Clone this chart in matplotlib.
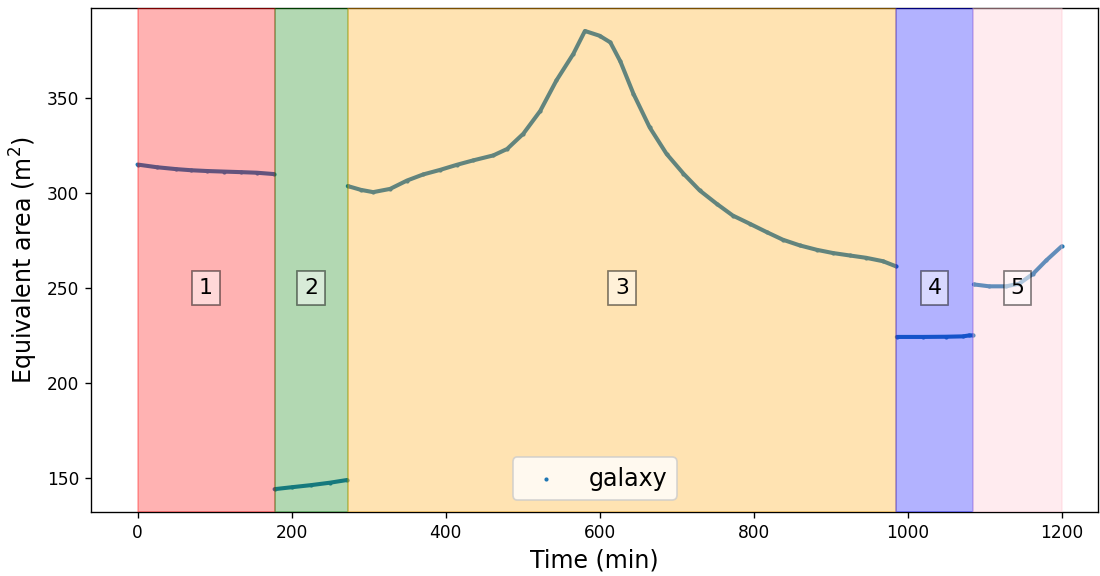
import matplotlib
matplotlib.use("Agg")
import matplotlib.pyplot as plt

# phase boundaries (min) and colours
phase_edges = [0, 178, 273, 985, 1085, 1200]
phase_colors = ["red", "green", "orange", "blue", "pink"]
phase_labels = ["1", "2", "3", "4", "5"]

# galaxy equivalent area, one list per phase
seg1_t = [0, 25, 50, 70, 90, 112, 135, 155, 177]
seg1_y = [314.8, 313.4, 312.4, 311.8, 311.4, 311.1, 310.8, 310.5, 309.8]

seg2_t = [178, 200, 225, 250, 272]
seg2_y = [144.2, 145.2, 146.3, 147.6, 149.0]

seg3_t = [273, 290, 306, 328, 350, 371, 393, 415, 436, 462, 480, 501, 523,
          544, 566, 581, 600, 614, 627, 644, 665, 687, 709, 730, 752, 773,
          795, 817, 838, 860, 882, 903, 925, 946, 968, 985]
seg3_y = [303.5, 301.5, 300.3, 302.0, 306.4, 309.6, 312.0, 314.7, 317.0,
          319.6, 323.0, 331.0, 343.0, 359.0, 373.0, 385.0, 382.5, 379.0,
          369.0, 352.0, 334.4, 320.4, 310.0, 301.2, 294.2, 288.0, 283.7,
          279.3, 275.3, 272.3, 270.0, 268.3, 267.0, 265.8, 264.0, 261.3]

seg4_t = [986, 1020, 1050, 1072, 1080, 1085]
seg4_y = [224.2, 224.2, 224.3, 224.5, 225.0, 225.0]

seg5_t = [1086, 1106, 1128, 1145, 1163, 1180, 1200]
seg5_y = [251.8, 250.8, 250.8, 252.2, 257.4, 264.4, 271.8]

segments = [(seg1_t, seg1_y), (seg2_t, seg2_y), (seg3_t, seg3_y),
            (seg4_t, seg4_y), (seg5_t, seg5_y)]

DPI = 122
fig, ax = plt.subplots(figsize=(1100 / DPI, 576 / DPI), dpi=DPI)
fig.subplots_adjust(left=0.083, right=0.998, top=0.986, bottom=0.111)

all_t = [t for s in segments for t in s[0]]
all_y = [y for s in segments for y in s[1]]
# points keep the legend handle, lines make the dense trace
ax.scatter(all_t, all_y, s=6, color="C0", linewidths=0, label="galaxy",
           zorder=2)
for t, y in segments:
    ax.plot(t, y, color="C0", lw=2.4, solid_capstyle="round", zorder=2)

for i in range(len(phase_colors)):
    a, b = phase_edges[i], phase_edges[i + 1]
    ax.axvspan(a, b, color=phase_colors[i], alpha=0.3, zorder=3)
    ax.text((a + b) / 2, 250, phase_labels[i], fontsize=13, ha="center",
            va="center", zorder=4,
            bbox=dict(facecolor="white", alpha=0.5))

ax.set_xlim(-60, 1247)
ax.set_xlabel("Time (min)", fontsize=14)
ax.set_ylabel("Equivalent area (m$^2$)", fontsize=14)
ax.legend(loc="lower center", fontsize=14)

plt.savefig("out.png", dpi=DPI)
